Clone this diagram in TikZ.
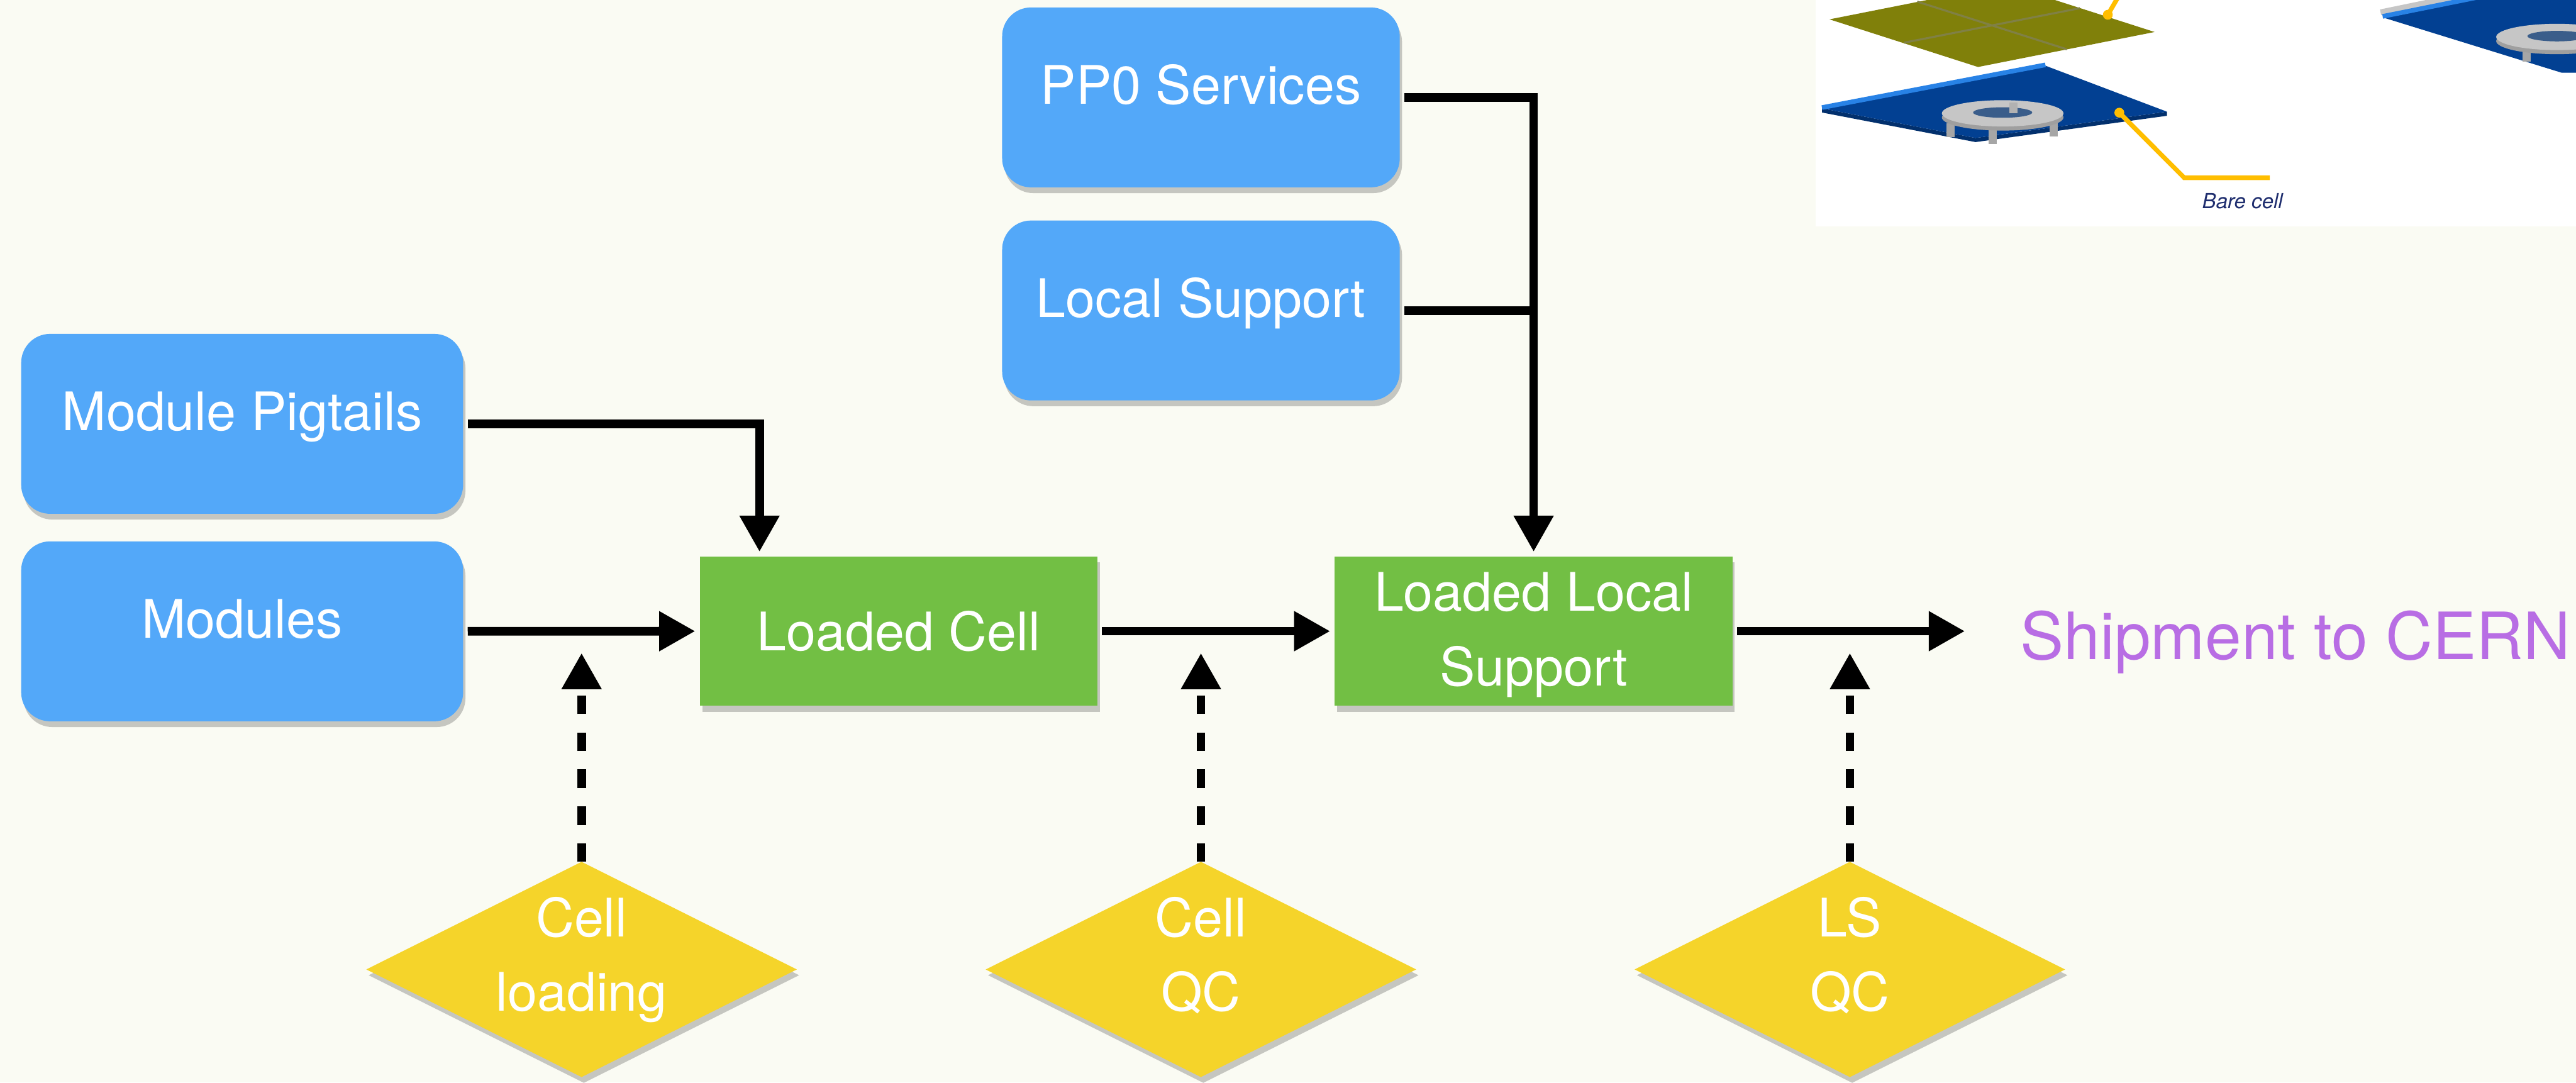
\documentclass[tikz,border=0pt]{standalone}
\usepackage{fontspec}
\setmainfont{TeX Gyre Heros}
\usetikzlibrary{arrows.meta, shapes.geometric, shadows, calc, positioning}
\definecolor{pageBg}{RGB}{250,251,243}
\definecolor{partBlue}{RGB}{83,168,249}
\definecolor{stageGreen}{RGB}{114,191,68}
\definecolor{qcYellow}{RGB}{245,212,42}
\definecolor{shipPurple}{RGB}{184,109,228}
\definecolor{cadOlive}{RGB}{128,128,10}
\definecolor{cadBlue}{RGB}{2,64,146}
\definecolor{cadEdge}{RGB}{40,130,230}
\definecolor{cadGold}{RGB}{255,190,0}
\definecolor{cadInk}{RGB}{30,45,110}
\newcommand{\boxFont}{\fontsize{9.2}{12.9}\selectfont}
\tikzset{
    softShadow/.style={drop shadow={shadow xshift=0.4pt, shadow yshift=-1pt, opacity=0.3, fill=black!70}},
    partBox/.style={rectangle, rounded corners=5pt, fill=partBlue, text=white, font=\boxFont, text height=7pt, text depth=4.6pt, minimum height=1.095cm, softShadow},
    stageBox/.style={rectangle, fill=stageGreen, text=white, font=\boxFont, align=center, minimum width=2.42cm, minimum height=0.91cm, softShadow},
    qcDiamond/.style={diamond, aspect=2, fill=qcYellow, text=white, font=\boxFont, align=center, inner xsep=0pt, inner ysep=-1.7pt, outer sep=0pt, minimum width=2.62cm, minimum height=1.31cm, softShadow, execute at end node={\rule[-5.3pt]{0pt}{5.3pt}}},
    shipText/.style={text=shipPurple, font=\fontsize{11.3}{13}\selectfont, inner sep=0pt},
    flowEdge/.style={-{Triangle[length=2.2mm, width=2.3mm]}, line width=1.5pt, shorten <=0.6pt, shorten >=0.6pt},
    joinEdge/.style={line width=1.5pt, shorten <=0.6pt},
    checkEdge/.style={-{Triangle[length=2.2mm, width=2.3mm]}, line width=1.5pt, dash pattern=on 3.2pt off 3.2pt},
}
\newcommand{\drawFeed}[3][flowEdge]{
    \draw[#1] (#2) -- (#3);
}
\newcommand{\drawCheck}[2]{\draw[checkEdge] (#1) -- (#2);}

\begin{document}
\begin{tikzpicture}
    \fill[pageBg] (0,0) rectangle (15.68,6.59);
    \useasboundingbox (0,0) rectangle (15.68,6.59);

    % parts coming in
    \node[partBox, minimum width=2.69cm] (pig) at (1.474,4.01) {Module Pigtails};
    \node[partBox, minimum width=2.69cm] (mod) at (1.474,2.747) {Modules};
    \node[partBox, minimum width=2.42cm] (pp0) at (7.31,5.997) {PP0 Services};
    \node[partBox, minimum width=2.42cm] (ls) at (7.31,4.70) {Local Support};

    % assembly stages
    \node[stageBox] (cell) at (5.47,2.748) {Loaded Cell};
    \node[stageBox, inner ysep=0pt] (lls) at (9.335,2.748) {\rule{0pt}{8pt}Loaded Local\\Support};
    \node[shipText, anchor=base west] (ship) at (12.29,2.575) {Shipment to CERN};

    % checks
    \node[qcDiamond] (load) at (3.54,0.689) {Cell\\loading};
    \node[qcDiamond] (cellqc) at (7.31,0.689) {Cell\\QC};
    \node[qcDiamond] (lsqc) at (11.26,0.689) {LS\\QC};
    \coordinate (loadTip) at (3.54,2.615);
    \coordinate (cellqcTip) at (7.31,2.615);
    \coordinate (lsqcTip) at (11.26,2.615);

    \drawFeed{mod.east}{cell.west}
    \drawFeed{cell.east}{lls.west}
    \drawFeed[flowEdge, shorten >=3.3mm]{lls.east}{lls.east -| ship.west}
    \draw[flowEdge] (pig.east) -| ([xshift=3.7mm]cell.north west);
    \draw[flowEdge] (pp0.east) -| (lls.north);
    \drawFeed[joinEdge]{ls.east}{ls.east -| lls.north}

    \drawCheck{load.north}{loadTip}
    \drawCheck{cellqc.north}{cellqcTip}
    \drawCheck{lsqc.north}{lsqcTip}

    % cad inset: module tile over bare cell
    \begin{scope}
        \clip (11.05,5.21) rectangle (15.68,6.59);
        \fill[white] (11.05,5.21) rectangle (15.68,6.59);
        \fill[cadOlive] (11.136,6.472) -- (12.04,6.182) -- (13.115,6.395) -- (12.211,6.685) -- cycle;
        \draw[cadOlive!50!gray, line width=0.35pt] (11.67,6.58) -- (12.58,6.29) (11.59,6.33) -- (12.66,6.54);
        \fill[cadGold] (12.83,6.50) circle (0.03);
        \draw[cadGold, line width=0.8pt] (12.83,6.50) -- (12.9,6.62);

        \fill[cadBlue!75!black] (11.09,5.905) -- (12.025,5.725) -- (13.19,5.885) -- (13.19,5.91) -- (12.025,5.75) -- (11.09,5.93) -- cycle;
        \fill[cadBlue] (11.09,5.93) -- (12.025,5.75) -- (13.19,5.91) -- (12.45,6.19) -- cycle;
        \draw[cadEdge, line width=0.8pt] (11.09,5.935) -- (12.45,6.195);
        \foreach \px/\py in {11.874/5.84, 12.128/5.80, 12.501/5.846} {
            \fill[gray!70] (\px-0.025,\py) rectangle (\px+0.025,\py-0.085);
        }
        \fill[gray!75] (12.19,5.875) ellipse (0.37 and 0.08);
        \fill[gray!45] (12.19,5.9) ellipse (0.37 and 0.08);
        \fill[cadBlue!55!gray] (12.19,5.905) ellipse (0.18 and 0.032);
        \fill[gray!60] (12.23,5.9) rectangle (12.28,5.965);
        \fill[cadGold] (12.90,5.904) circle (0.03);
        \draw[cadGold, line width=0.8pt] (12.90,5.904) -- (13.295,5.508) -- (13.816,5.508);
        \node[text=cadInk, font=\fontsize{3.6}{4}\selectfont\itshape] (bareLbl) at (13.65,5.367) {Bare cell};

        \fill[cadBlue] (14.503,6.484) -- (15.175,6.62) -- (15.75,6.62) -- (15.75,6.147) -- (15.593,6.147) -- cycle;
        \draw[gray!45, line width=1pt] (14.49,6.515) -- (15.0,6.62);
        \draw[cadEdge, line width=0.8pt] (14.503,6.49) -- (15.175,6.625);
        \fill[gray!70] (15.354,6.30) rectangle (15.404,6.215);
        \fill[gray!75] (15.564,6.34) ellipse (0.37 and 0.08);
        \fill[gray!45] (15.564,6.365) ellipse (0.37 and 0.08);
        \fill[cadBlue!55!gray] (15.564,6.37) ellipse (0.18 and 0.032);
    \end{scope}
\end{tikzpicture}
\end{document}
